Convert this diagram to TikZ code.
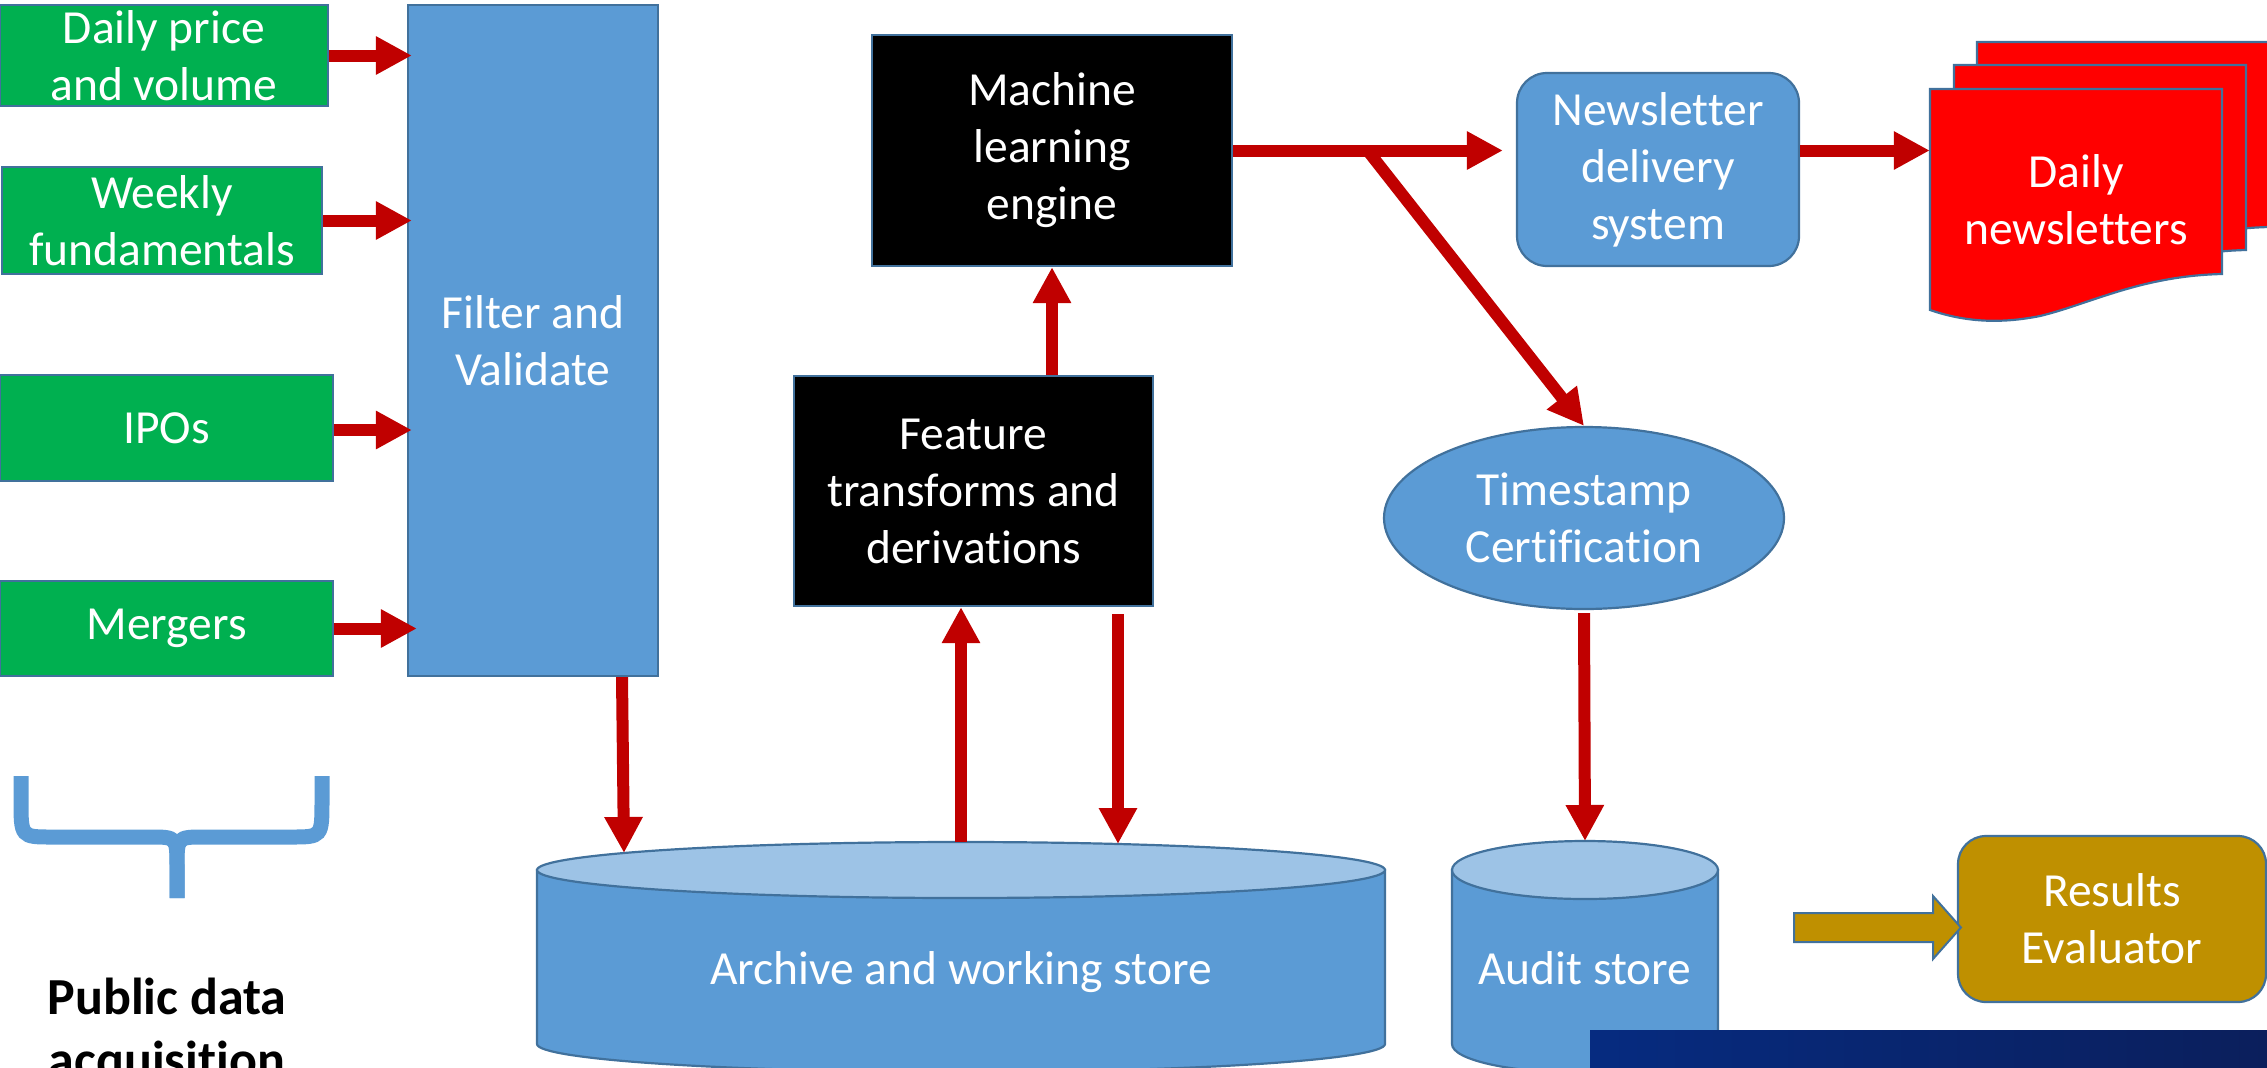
\documentclass[tikz,border=0pt]{standalone}
\usepackage{fontspec}
\setmainfont{Carlito}[Ligatures=NoCommon]
\usetikzlibrary{arrows.meta,shapes.geometric,calc}
\definecolor{grbox}{HTML}{00B050}
\definecolor{blbox}{HTML}{5B9BD5}
\definecolor{bdline}{HTML}{41719C}
\definecolor{cyltop}{HTML}{9DC3E6}
\definecolor{arrred}{HTML}{C00000}
\definecolor{docred}{HTML}{FF0000}
\definecolor{olivebox}{HTML}{BF9000}
\definecolor{navyL}{HTML}{062B80}
\definecolor{navyR}{HTML}{0B1F5C}
\tikzset{
  lbl/.style={text=white, font=\fontsize{47.5bp}{57bp}\selectfont, align=center, inner sep=0pt},
  greenbox/.style={lbl, rectangle, draw=bdline, line width=2.2bp, fill=grbox},
  bluebox/.style={lbl, rectangle, draw=bdline, line width=2.2bp, fill=blbox},
  blackbox/.style={lbl, rectangle, draw=bdline, line width=2.2bp, fill=black},
  shapeline/.style={draw=bdline, line width=2.2bp},
  redarrow/.style={draw=arrred, line width=12bp, -{Triangle[length=36bp,width=36bp]}},
}
\begin{document}
\begin{tikzpicture}[x=1bp,y=-1bp]
\useasboundingbox (0,0) rectangle (2267,1067);
\clip (0,0) rectangle (2267,1067);

% sources
\node[greenbox, minimum width=328bp, minimum height=101bp] (daily) at (164,55.5) {Daily price\\and volume};
\node[greenbox, minimum width=320bp, minimum height=107bp] (weekly) at (162,220.5) {Weekly\\fundamentals};
\node[greenbox, minimum width=333bp, minimum height=106bp] (ipos) at (166.5,428) {IPOs};
\node[greenbox, minimum width=333bp, minimum height=95bp] (mergers) at (166.5,628.5) {Mergers};
\node[bluebox, minimum width=250bp, minimum height=671bp] (filter) at (533,340.5) {Filter and\\Validate};

% processing
\node[blackbox, minimum width=359bp, minimum height=230bp] (feat) at (973.5,491) {Feature\\transforms and\\derivations};
\node[blackbox, minimum width=360bp, minimum height=231bp] (ml) at (1052,150.5) {Machine\\learning\\engine};
\node[bluebox, rounded corners=30bp, minimum width=282bp, minimum height=193bp] (news) at (1658,169.5) {Newsletter\\delivery\\system};
\node[bluebox, ellipse, minimum width=400bp, minimum height=182bp] (ts) at (1584,518) {Timestamp\\Certification};

% document stack
\foreach \s in {47,24,0}{
  \begin{scope}[shift={(\s,-\s)}]
    \filldraw[shapeline, fill=docred] (1930,89) -- (2222,89) -- (2222,274)
      .. controls (2140,276) and (2090,304) .. (2040,316)
      .. controls (2000,324) and (1965,322) .. (1930,310) -- cycle;
  \end{scope}
}
\node[lbl, minimum width=292bp, minimum height=180bp] (docs) at (2076,200) {Daily\\newsletters};

% archive cylinder
\filldraw[shapeline, fill=blbox] (537,870) -- (537,1044)
  .. controls (537,1059.5) and (726.8,1072) .. (961,1072)
  .. controls (1195.2,1072) and (1385,1059.5) .. (1385,1044) -- (1385,870) -- cycle;
\filldraw[shapeline, fill=cyltop] (961,870) ellipse [x radius=424, y radius=28];
\node[lbl] (archive) at (961,972) {Archive and working store};

% audit cylinder
\filldraw[shapeline, fill=blbox] (1452,870) -- (1452,1044)
  .. controls (1452,1060) and (1511.5,1073) .. (1585,1073)
  .. controls (1658.5,1073) and (1718,1060) .. (1718,1044) -- (1718,870) -- cycle;
\filldraw[shapeline, fill=cyltop] (1585,870) ellipse [x radius=133, y radius=29];
\node[lbl] (audit) at (1585,968) {Audit store};

% results
\node[lbl, rectangle, rounded corners=28bp, shapeline, fill=olivebox, minimum width=308bp, minimum height=166bp] (res) at (2112,919) {Results\\Evaluator};

% brace and label
\draw[blbox, line width=15bp] (21,776) -- (21,800) .. controls (21,837) .. (52,837) -- (150,837) .. controls (177,837) .. (177,868) -- (177,898);
\draw[blbox, line width=15bp] (322,776) -- (322,800) .. controls (322,837) .. (291,837) -- (204,837) .. controls (177,837) .. (177,868) -- (177,898);
\node[font=\bfseries\fontsize{52bp}{63bp}\selectfont, align=center, inner sep=0pt] (pda) at (167,1032) {Public data\\acquisition};

% coordinates
\coordinate (arcA) at (624,853);
\coordinate (arcB) at (961,842);
\coordinate (arcC) at (1118,844);
\coordinate (audTop) at (1585,841);
\coordinate (branch) at (1368,151);
\coordinate (oliveStart) at (1794,927.5);

% connectors
\draw[redarrow] (daily.east) -- ([xshift=5bp]daily.east -| filter.west);
\draw[redarrow] (weekly.east) -- ([xshift=5bp]weekly.east -| filter.west);
\draw[redarrow] ([yshift=-2bp]ipos.east) -- ([xshift=5bp,yshift=-2bp]ipos.east -| filter.west);
\draw[redarrow] (mergers.east) -- ([xshift=10bp]mergers.east -| filter.west);
\draw[redarrow] ([xshift=89bp]filter.south) -- (arcA);
\draw[redarrow] (arcB) -- (arcB |- feat.south);
\draw[redarrow] ([yshift=-7bp]arcC |- feat.south) -- (arcC);
\draw[redarrow] (ml.south |- feat.north) -- (ml.south);
\draw[redarrow] (ml.east) -- ([xshift=-13bp]ml.east -| news.west);
\draw[redarrow] (branch) -- (ts.north);
\draw[redarrow] (news.east |- ml.east) -- (docs.west |- ml.east);
\draw[redarrow] ([yshift=-3bp]ts.south) -- (audTop);

% olive block arrow
\filldraw[shapeline, line width=2bp, fill=olivebox] (oliveStart) ++(0,-14.5) -- (1933,913) -- (1933,896)
  -- ([xshift=4bp]res.west |- oliveStart) -- (1933,959) -- (1933,942) -- (1794,942) -- cycle;

% dark banner
\shade[left color=navyL, right color=navyR] (1590,1030) rectangle (2267,1067);
\end{tikzpicture}
\end{document}
